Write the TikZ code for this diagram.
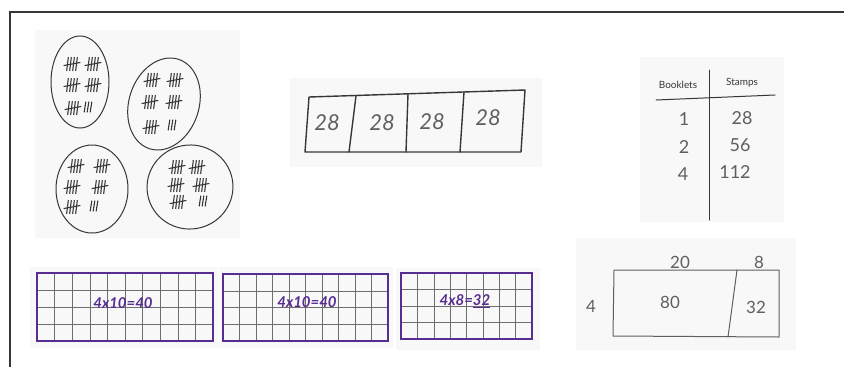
\documentclass[tikz,border=0pt]{standalone}
\usepackage{fontspec}
\setmainfont{Lato}
\usepackage{tikz}
\usetikzlibrary{calc}
\definecolor{inkgray}{RGB}{55,55,55}
\definecolor{pencil}{RGB}{95,95,95}
\definecolor{panelgray}{RGB}{248,248,248}
\definecolor{markerpurple}{RGB}{88,45,145}
\definecolor{gridgray}{RGB}{110,110,110}

\begin{document}
\begin{tikzpicture}[x=1bp,y=-1bp,
    panel/.style={fill=panelgray,draw=none},
    ink/.style={draw=inkgray,line width=1bp,line cap=round,line join=round},
    tally/.style={draw=inkgray,line width=1.1bp,line cap=round},
    hand/.style={text=pencil,inner sep=0pt,font=\fontsize{22}{24}\selectfont\itshape},
    small/.style={text=inkgray,inner sep=0pt,font=\fontsize{10}{12}\selectfont},
    gridtext/.style={text=markerpurple,inner sep=0pt,font=\fontsize{15}{17}\selectfont\bfseries\itshape},
    border/.style={draw=markerpurple,line width=1.8bp},
    fivebundle/.pic={
      \foreach \i in {-4.5,-1.5,1.5,4.5}
        \draw[tally] (\i+0.8,-6.5) -- (\i-0.8,6.5);
      \draw[tally] (-8,1.5) -- (8,-1.5);
    },
    threestrokes/.pic={
      \foreach \i in {-3,0,3}
        \draw[tally] (\i+0.8,-5) -- (\i-0.8,5);
    }]
  \useasboundingbox (0,0) rectangle (844,367);
  \draw[line width=1.2bp,inkgray] (10,367) -- (10,12) -- (844,12);

  % tallies
  \fill[panel] (35,30) rectangle (240,238);
  \draw[ink] (80,82) ellipse [x radius=29,y radius=46];
  \draw[ink,rotate around={-18:(164,104)}] (164,104) ellipse [x radius=35,y radius=47];
  \draw[ink] (92,189) ellipse [x radius=36,y radius=44];
  \draw[ink,rotate around={10:(190,187)}] (190,187) ellipse [x radius=43,y radius=42];
  \foreach \x/\y in {72/64,93/64,72/85,93/85,73/108,
                     152/80,175/80,150/102,174/102,151/127,
                     76/166,102/166,72/187,100/187,72/207,
                     177/167,197/167,176/185,201/185,178/202}
    \pic at (\x,\y) {fivebundle};
  \foreach \x/\y in {88/107,172/125,94/206,203/201}
    \pic at (\x,\y) {threestrokes};

  % tape diagram
  \fill[panel] (290,78) rectangle (542,167);
  \draw[ink,line width=1.4bp] (309,97) -- (525,90) -- (521,152) -- (305,152) -- cycle;
  \draw[ink,line width=1.4bp] (356,96) -- (349,152);
  \draw[ink,line width=1.4bp] (408,94) -- (406,152);
  \draw[ink,line width=1.4bp] (464,92) -- (460,152);
  \foreach \n/\x/\y in {1/327/123,2/382/123,3/432/122,4/488/118}
    \node[hand] (tape\n) at (\x,\y) {28};

  % table
  \fill[panel] (640,57) rectangle (784,222);
  \node[small] (booklets) at (678,85) {Booklets};
  \node[small] (stamps) at (742,83) {Stamps};
  \draw[ink] (656,100) -- (775,95);
  \draw[ink] (709,70) -- (709,220);
  \node[hand,font=\fontsize{18}{20}\selectfont] (b1) at (684,119) {1};
  \node[hand,font=\fontsize{18}{20}\selectfont] (s1) at (742,118) {28};
  \node[hand,font=\fontsize{18}{20}\selectfont] (b2) at (684,147) {2};
  \node[hand,font=\fontsize{18}{20}\selectfont] (s2) at (740,145) {56};
  \node[hand,font=\fontsize{18}{20}\selectfont] (b3) at (683,174) {4};
  \node[hand,font=\fontsize{18}{20}\selectfont] (s3) at (735,172) {112};

  % arrays
  \fill[panel] (30,267) rectangle (218,348);
  \fill[panel] (219,267) rectangle (393,348);
  \fill[panel] (396,268) rectangle (540,350);
  \foreach \x in {1,...,9}
    \draw[gridgray] ($(37,273)!\x/10!(213,273)$) -- ($(37,341)!\x/10!(213,341)$);
  \foreach \y in {1,2,3}
    \draw[gridgray] ($(37,273)!\y/4!(37,341)$) -- ($(213,273)!\y/4!(213,341)$);
  \draw[border] (37,273) rectangle (213,341);
  \foreach \x in {1,...,9}
    \draw[gridgray] ($(223,274)!\x/10!(388,274)$) -- ($(223,341)!\x/10!(388,341)$);
  \foreach \y in {1,2,3}
    \draw[gridgray] ($(223,274)!\y/4!(223,341)$) -- ($(388,274)!\y/4!(388,341)$);
  \draw[border] (223,274) rectangle (388,341);
  \foreach \x in {1,...,7}
    \draw[gridgray] ($(401,273)!\x/8!(532,273)$) -- ($(401,339)!\x/8!(532,339)$);
  \foreach \y in {1,2,3}
    \draw[gridgray] ($(401,273)!\y/4!(401,339)$) -- ($(532,273)!\y/4!(532,339)$);
  \draw[border] (401,273) rectangle (532,339);
  \node[gridtext] (arrayA) at (123,303) {4x10=40};
  \node[gridtext] (arrayB) at (307,302) {4x10=40};
  \node[gridtext] (arrayC) at (465,301) {4x8=\underline{32}};

  % area model
  \fill[panel] (576,238) rectangle (796,350);
  \draw[ink,draw=pencil] (614,270) -- (779,270) -- (779,337) -- (613,336) -- cycle;
  \draw[ink,draw=pencil] (737,270) -- (728,337);
  \node[hand,font=\fontsize{17}{19}\selectfont] (top20) at (680,262) {20};
  \node[hand,font=\fontsize{17}{19}\selectfont] (top8) at (759,262) {8};
  \node[hand,font=\fontsize{17}{19}\selectfont] (side4) at (591,306) {4};
  \node[hand,font=\fontsize{17}{19}\selectfont] (part80) at (670,302) {80};
  \node[hand,font=\fontsize{17}{19}\selectfont] (part32) at (756,307) {32};
\end{tikzpicture}
\end{document}
